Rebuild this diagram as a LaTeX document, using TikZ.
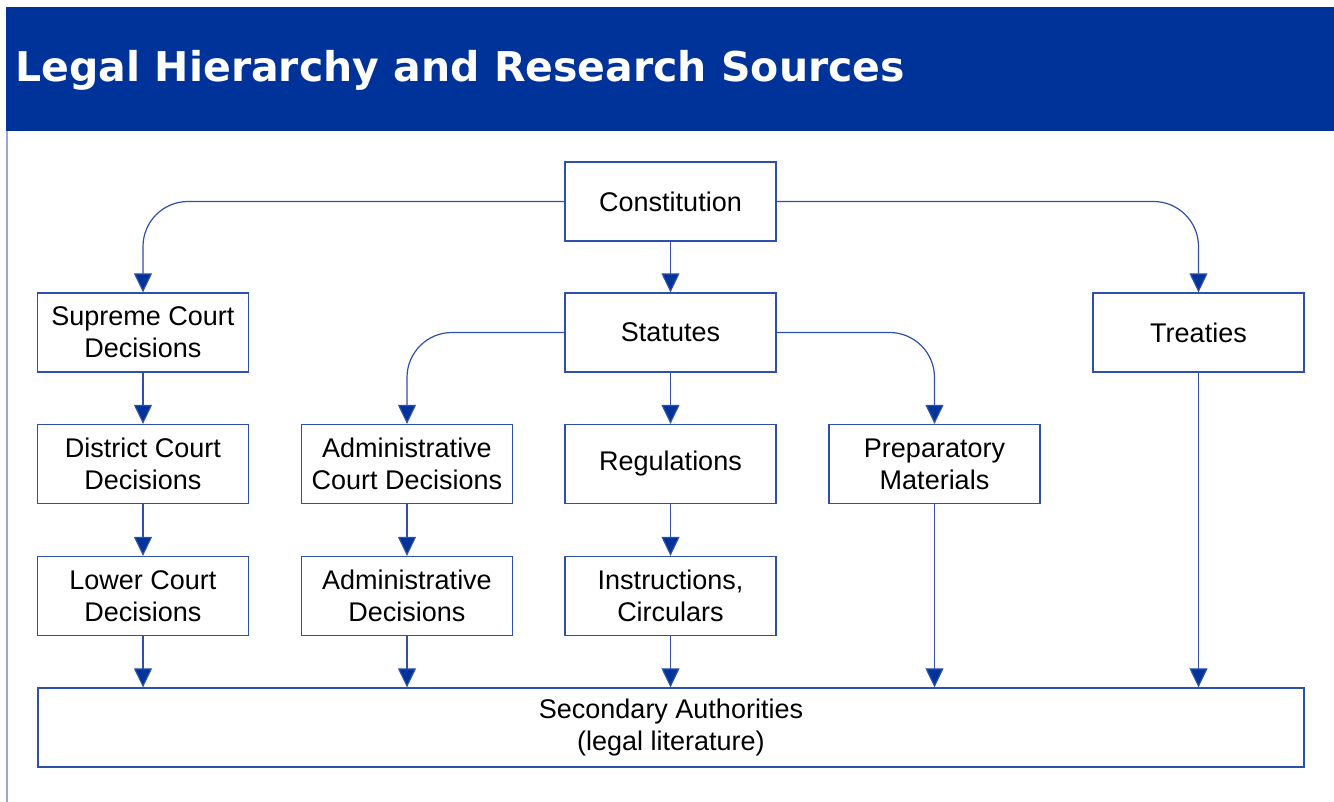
\documentclass[tikz,border=0pt]{standalone}
\usepackage{fontspec}
\setmainfont{Liberation Sans}
\newfontfamily\titlefont{DejaVu Sans}
\usetikzlibrary{arrows.meta}
\definecolor{barblue}{RGB}{0,51,153}
\definecolor{lineblue}{RGB}{45,80,170}

\begin{document}
\begin{tikzpicture}
  [x=1pt,y=-1pt,
   every node/.style={draw=lineblue,line width=1.3pt,minimum width=211pt,minimum height=79pt,
     inner sep=0pt,align=center,font=\fontsize{27}{32}\selectfont},
   link/.style={draw=lineblue,line width=1.2pt,rounded corners=45pt,
     -{Triangle[length=19pt,width=18pt,fill=barblue]}}]
  \useasboundingbox (0,0) rectangle (1334,802);
  \fill[barblue] (6,7) rectangle (1334,131);
  \draw[lineblue!50,line width=2pt] (7,131) -- (7,802);
  \node[draw=none,text=white,anchor=base west,minimum width=0pt,minimum height=0pt,
    font=\titlefont\bfseries\fontsize{41}{48}\selectfont] (title) at (15,82)
    {Legal Hierarchy and Research Sources};

  \node (const) at (670.5,201.5) {Constitution};
  \node (stat)  at (670.5,332.5) {Statutes};
  \node (sup)   at (143,332.5)   {Supreme Court\\Decisions};
  \node (treat) at (1198.5,332.5) {Treaties};
  \node (dist)  at (143,464)     {District Court\\Decisions};
  \node (admc)  at (407,464)     {Administrative\\Court Decisions};
  \node (reg)   at (670.5,464)   {Regulations};
  \node (prep)  at (934.5,464)   {Preparatory\\Materials};
  \node (low)   at (143,596)     {Lower Court\\Decisions};
  \node (admd)  at (407,596)     {Administrative\\Decisions};
  \node (instr) at (670.5,596)   {Instructions,\\Circulars};
  \node[minimum width=1266pt] (sec) at (671,727.5) {Secondary Authorities\\(legal literature)};

  \foreach \from/\to in {const/sup,stat/admc}
    \draw [link] (\from.west) -| (\to.north);
  \foreach \from/\to in {const/treat,stat/prep}
    \draw [link] (\from.east) -| (\to.north);
  \foreach \from/\to in {const/stat,sup/dist,dist/low,stat/reg,admc/admd,reg/instr}
    \draw [link] (\from) -- (\to);
  \foreach \from in {low,admd,instr,prep,treat}
    \draw [link] (\from.south) -- (\from.south |- sec.north);

\end{tikzpicture}
\end{document}
